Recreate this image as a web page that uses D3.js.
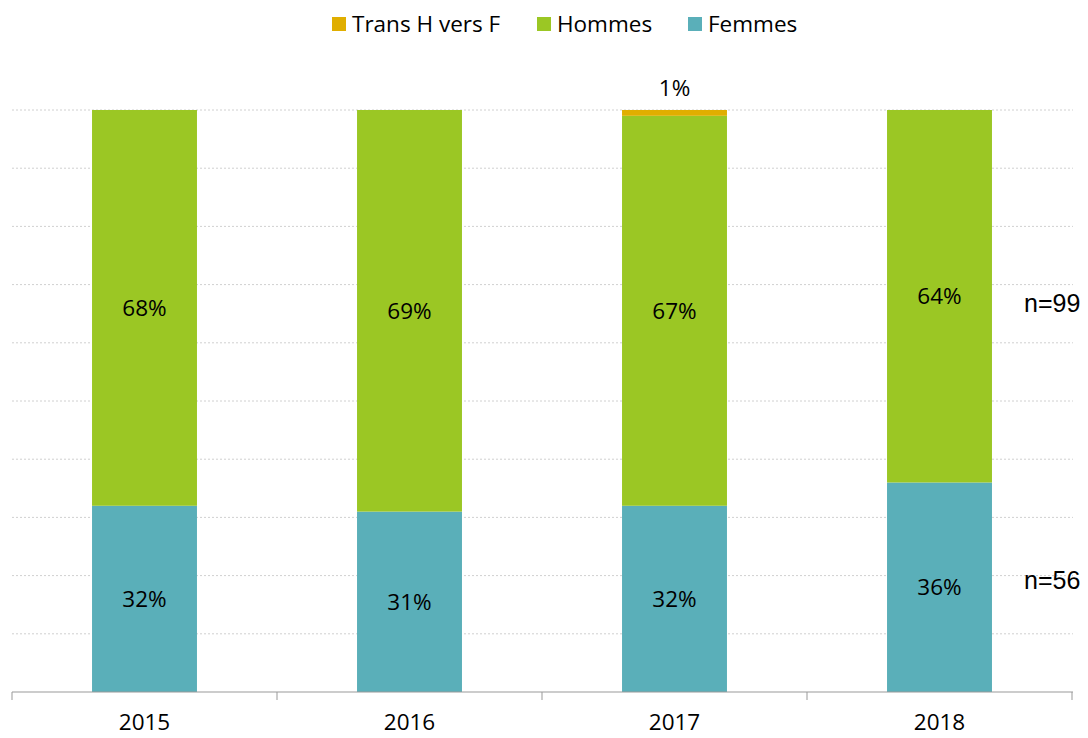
<!DOCTYPE html>
<html>
<head>
<meta charset="utf-8">
<script src="https://cdn.jsdelivr.net/npm/d3@7"></script>
<style>
  body { margin: 0; background: #fff; }
  svg { display: block; }
</style>
</head>
<body>
<div id="chart"></div>
<script>
var years = ["2015", "2016", "2017", "2018"];
var femmes = [32, 31, 32, 36];
var hommes = [68, 69, 67, 64];
var trans = [0, 0, 1, 0];
var seriesNames = ["Trans H vers F", "Hommes", "Femmes"];
var nLabels = [{ text: "n=99", value: 66.8 }, { text: "n=56", value: 19.2 }];

var width = 1088, height = 738;
var font = "'Open Sans', sans-serif";
var fs = "22.5px";

var svg = d3.select("#chart").append("svg")
    .attr("width", width)
    .attr("height", height);

var x = d3.scaleBand().domain(years).range([12, 1072]).padding(0);
var y = d3.scaleLinear().domain([0, 100]).range([692, 110]);
var barW = x.bandwidth() * 0.396;

var color = d3.scaleOrdinal()
    .domain(seriesNames)
    .range(["#E0AE00", "#9BC724", "#5AAFB9"]);

// gridlines
svg.append("g").selectAll("line")
    .data(d3.range(10, 101, 10))
    .enter().append("line")
    .attr("x1", 12).attr("x2", 1073)
    .attr("y1", function (d) { return y(d); })
    .attr("y2", function (d) { return y(d); })
    .attr("stroke", "#d0d0d0")
    .attr("stroke-width", 1)
    .attr("stroke-dasharray", "2,2");

// stacked data
var rows = years.map(function (yr, i) {
    return { year: yr, "Femmes": femmes[i], "Hommes": hommes[i], "Trans H vers F": trans[i] };
});
var stack = d3.stack().keys(["Femmes", "Hommes", "Trans H vers F"]);
var layers = stack(rows);

var g = svg.append("g");
layers.forEach(function (layer) {
    g.selectAll(null)
        .data(layer)
        .enter().append("rect")
        .attr("x", function (d) { return x(d.data.year) + (x.bandwidth() - barW) / 2; })
        .attr("width", barW)
        .attr("y", function (d) { return y(d[1]); })
        .attr("height", function (d) { return y(d[0]) - y(d[1]); })
        .attr("fill", color(layer.key));
});

// labels
layers.forEach(function (layer) {
    g.selectAll(null)
        .data(layer.filter(function (d) { return d[1] - d[0] > 0; }))
        .enter().append("text")
        .attr("x", function (d) { return x(d.data.year) + x.bandwidth() / 2; })
        .attr("y", function (d) {
            if (layer.key === "Trans H vers F") return y(d[1]) - 22;
            return (y(d[0]) + y(d[1])) / 2;
        })
        .attr("dy", "0.35em")
        .attr("text-anchor", "middle")
        .style("font-family", font)
        .style("font-size", fs)
        .attr("fill", "#000")
        .text(function (d) { return Math.round(d[1] - d[0]) + "%"; });
});

// x axis
var axis = svg.append("g")
    .attr("transform", "translate(0,692)")
    .call(d3.axisBottom(x).tickSize(0).tickPadding(22));
axis.select(".domain").attr("stroke", "#999").attr("d", "M12,0H1073");
axis.selectAll("text")
    .style("font-family", font)
    .style("font-size", fs)
    .attr("fill", "#000");
svg.append("g").selectAll("line")
    .data(years.concat(["end"]))
    .enter().append("line")
    .attr("x1", function (d, i) { return i < years.length ? x(d) : 1072; })
    .attr("x2", function (d, i) { return i < years.length ? x(d) : 1072; })
    .attr("y1", 692).attr("y2", 700)
    .attr("stroke", "#999");

// n labels
svg.selectAll(".nlab")
    .data(nLabels)
    .enter().append("text")
    .attr("class", "nlab")
    .attr("x", 1024)
    .attr("y", function (d) { return y(d.value); })
    .attr("dy", "0.35em")
    .style("font-family", "'Liberation Sans', Arial, sans-serif")
    .style("font-size", "25px")
    .text(function (d) { return d.text; });

// legend
var legendItems = [
    { name: "Trans H vers F", x: 332 },
    { name: "Hommes", x: 537 },
    { name: "Femmes", x: 688 }
];
var lg = svg.append("g");
legendItems.forEach(function (it) {
    lg.append("rect")
        .attr("x", it.x).attr("y", 17)
        .attr("width", 14).attr("height", 14)
        .attr("fill", color(it.name));
    lg.append("text")
        .attr("x", it.x + 20).attr("y", 24)
        .attr("dy", "0.35em")
        .style("font-family", font)
        .style("font-size", fs)
        .text(it.name);
});
</script>
</body>
</html>
